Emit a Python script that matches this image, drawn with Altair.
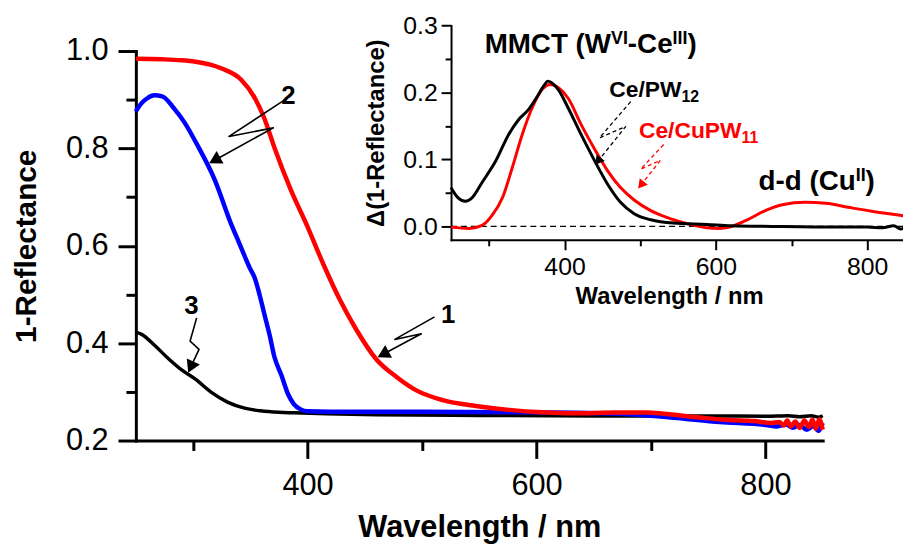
import altair as alt
import pandas as pd

FONT = "Liberation Sans"

# ---------------- main panel data: 1-Reflectance ----------------
red_wl = [250, 273, 290, 302, 315, 325, 342, 354, 362, 371, 385, 400, 414, 428, 443, 460, 478, 495, 518,
          547, 576, 605, 634, 668, 697, 711, 740, 769, 790, 805, 812, 816, 819, 822, 826, 830, 834, 838, 841,
          844, 847, 850]
red_val = [0.984, 0.983, 0.981, 0.978, 0.972, 0.964, 0.941, 0.903, 0.863, 0.802, 0.717, 0.639, 0.561, 0.490,
           0.426, 0.367, 0.330, 0.303, 0.283, 0.271, 0.263, 0.258, 0.256, 0.2575, 0.2575, 0.255, 0.248,
           0.242, 0.240, 0.236, 0.238, 0.231, 0.241, 0.229, 0.239, 0.226, 0.241, 0.228, 0.243, 0.224, 0.244, 0.222]

blue_wl = [250, 255, 260, 266, 273, 284, 292, 303, 319, 333, 340, 345, 350, 354, 358, 362, 367, 371, 377, 383,
           388, 394, 400, 420, 500, 600, 680, 720, 760, 800, 810, 818, 824, 830, 836, 842, 846, 850]
blue_val = [0.876, 0.893, 0.903, 0.909, 0.907, 0.880, 0.855, 0.810, 0.735, 0.646, 0.607, 0.579, 0.552, 0.533,
            0.500, 0.462, 0.415, 0.372, 0.335, 0.295, 0.275, 0.264, 0.260, 0.259, 0.259, 0.258, 0.254, 0.247,
            0.238, 0.232, 0.229, 0.233, 0.226, 0.232, 0.222, 0.230, 0.220, 0.236]

black_wl = [250, 255, 267, 279, 290, 302, 316, 330, 345, 359, 375, 388, 417, 460, 550, 650, 750, 800, 820,
            830, 840, 846, 850]
black_val = [0.4226, 0.418, 0.394, 0.367, 0.345, 0.326, 0.299, 0.279, 0.2665, 0.261, 0.258, 0.257, 0.255,
             0.253, 0.2515, 0.2505, 0.2505, 0.250, 0.251, 0.249, 0.251, 0.248, 0.251]

# ---------------- inset data: delta(1-Reflectance) ----------------
ins_black_wl = [250, 252, 259, 269, 278, 291, 309, 326, 339, 352, 365, 372, 378, 385, 392, 405, 422, 440, 457,
                474, 492, 514, 544, 588, 620, 675, 762, 800, 820, 835, 845, 850]
ins_black_val = [0.058, 0.054, 0.043, 0.0375, 0.043, 0.0656, 0.0976, 0.137, 0.159, 0.174, 0.196, 0.209, 0.217,
                 0.213, 0.204, 0.1765, 0.137, 0.0976, 0.063, 0.036, 0.019, 0.010, 0.005, 0.003, 0.001, 0.0,
                 -0.001, -0.001, -0.002, 0.001, -0.004, 0.002]

ins_red_wl = [250, 274, 291, 304, 318, 331, 344, 357, 370, 381, 392, 405, 422, 440, 457, 474, 492, 514, 535,
              550, 566, 588, 605, 618, 640, 666, 688, 718, 745, 775, 806, 845, 850]
ins_red_val = [-0.001, -0.003, 0.0015, 0.016, 0.043, 0.088, 0.137, 0.1765, 0.204, 0.212, 0.207, 0.191, 0.152,
               0.115, 0.083, 0.058, 0.0395, 0.0237, 0.0135, 0.008, 0.003, -0.002, -0.003, -0.001, 0.009, 0.024,
               0.0325, 0.036, 0.0345, 0.0286, 0.0227, 0.0163, 0.0155]

# ---------------- annotations ----------------
num_text = ["1", "2", "3"]
num_wl = [522.7, 383.3, 298.5]
num_val = [0.4424, 0.8904, 0.4607]

# squiggly arrows of the main panel (wavelength, value), last point = arrow head
arrow2_wl = [381.0, 331.4, 370.1, 320.4]
arrow2_val = [0.9012, 0.8246, 0.8422, 0.7778]
arrow1_wl = [510.9, 476.2, 499.4, 467.6]
arrow1_val = [0.454, 0.4077, 0.4193, 0.3792]
arrow3_wl = [303.1, 297.4, 305.2, 298.7]
arrow3_val = [0.4519, 0.4043, 0.3874, 0.3548]
head_main_angle = [241.8, 241.2, 204.6]

# dashed arrows in the inset
iarrow_black_wl = [487.5, 446.1, 481.0, 445.4]
iarrow_black_val = [0.1864, 0.1321, 0.1494, 0.0991]
iarrow_red_wl = [531.0, 500.6, 526.7, 502.3]
iarrow_red_val = [0.1223, 0.0854, 0.0987, 0.0636]
head_inset_angle = [218.6, 218.3]

# rich-text labels in the inset
MMCT = [("MMCT (W", "n"), ("VI", "sup"), ("-Ce", "n"), ("III", "sup"), (")", "n")]
CEPW = [("Ce/PW", "n"), ("12", "sub")]
CECUPW = [("Ce/CuPW", "n"), ("11", "sub")]
DD = [("d-d (Cu", "n"), ("II", "sup"), (")", "n")]

# ---------------- layout ----------------
W, H = 693, 393
INSET_XR = [318, 776]
INSET_YR = [190.5, -25.7]

ARIAL_BOLD = {' ': 278, '(': 333, ')': 333, '-': 333, '/': 278, '1': 556, '2': 556, 'C': 722, 'M': 833,
              'T': 611, 'W': 944, 'V': 667, 'I': 278, 'P': 667, 'e': 556, 'u': 611, 'd': 611}


def tw(s, size):
    return sum(ARIAL_BOLD.get(c, 556) for c in s) * size / 1000.0


tx_main = "datum.value % 200 === 0"
ty_main = "round(datum.value * 10) % 2 === 0"
ty_ins = "round(datum.value * 100) % 10 === 0"

main_x_axis = alt.Axis(
    orient="bottom", values=[300, 400, 500, 600, 700, 800], format="d",
    labelExpr=f"{tx_main} ? datum.label : ''", labelOverlap=False, labelFontSize=31, labelPadding=12,
    tickSize={"condition": {"test": tx_main, "value": 18}, "value": 10}, tickWidth=3, domainWidth=3,
    title="Wavelength / nm", titleFontSize=31, titleFontWeight="bold", titleX=W / 2, titleY=88,
    titleBaseline="middle", titleAlign="center", titleAngle=0)

main_y_axis = alt.Axis(
    orient="left", values=[0.2, 0.3, 0.4, 0.5, 0.6, 0.7, 0.8, 0.9, 1.0], format=".1f",
    labelExpr=f"{ty_main} ? datum.label : ''", labelOverlap=False, labelFontSize=31, labelPadding=10,
    tickSize={"condition": {"test": ty_main, "value": 18}, "value": 10}, tickWidth=3, domainWidth=3,
    title="1-Reflectance", titleFontSize=30, titleFontWeight="bold", titleX=-110, titleY=H / 2,
    titleBaseline="middle", titleAlign="center", titleAngle=270)

ins_x_axis = alt.Axis(
    orient="bottom", offset=-202.5, values=[300, 400, 500, 600, 700, 800], format="d",
    labelExpr=f"{tx_main} ? datum.label : ''", labelOverlap=False, labelFontSize=25, labelPadding=5,
    tickSize={"condition": {"test": tx_main, "value": 10}, "value": 6}, tickWidth=2, domainWidth=2,
    title="Wavelength / nm", titleFontSize=24, titleFontWeight="bold", titleX=538, titleY=57.5,
    titleBaseline="middle", titleAlign="center", titleAngle=0)

ins_y_axis = alt.Axis(
    orient="left", offset=-318, values=[0.0, 0.05, 0.1, 0.15, 0.2, 0.25, 0.3], format=".1f",
    labelExpr=f"{ty_ins} ? datum.label : ''", labelOverlap=False, labelFontSize=25, labelPadding=4,
    tickSize={"condition": {"test": ty_ins, "value": 10}, "value": 6}, tickWidth=2, domainWidth=2,
    title="Δ(1-Reflectance)", titleFontSize=24, titleFontWeight="bold", titleX=-75,
    titleY=(INSET_YR[0] + INSET_YR[1]) / 2, titleBaseline="middle", titleAlign="center", titleAngle=270)

main_xs = alt.Scale(domain=[250, 850], nice=False, zero=False)
main_ys = alt.Scale(domain=[0.2, 1.0], nice=False, zero=False)
ins_xs = alt.Scale(domain=[250, 850], range=INSET_XR, nice=False, zero=False)
ins_ys = alt.Scale(domain=[-0.02, 0.3], range=INSET_YR, nice=False, zero=False)


def mx():
    return alt.X("wl:Q", scale=main_xs, axis=main_x_axis)


def my():
    return alt.Y("val:Q", scale=main_ys, axis=main_y_axis)


def ix():
    return alt.X("wl:Q", scale=ins_xs, axis=ins_x_axis)


def iy():
    return alt.Y("val:Q", scale=ins_ys, axis=ins_y_axis)


def curve(wl, val, color, width, inset=False):
    df = pd.DataFrame({"wl": wl, "val": val})
    return alt.Chart(df).mark_line(color=color, strokeWidth=width, strokeJoin="round",
                                   interpolate="monotone").encode(
        x=ix() if inset else mx(), y=iy() if inset else my())


def arrows_df(lists):
    rows = []
    for name, (wl, val) in lists.items():
        for i, (a, b) in enumerate(zip(wl, val)):
            rows.append({"arrow": name, "i": i, "wl": a, "val": b})
    return pd.DataFrame(rows)


# ---------------- main panel layers ----------------
main_arrows = arrows_df({"a1": (arrow1_wl, arrow1_val), "a2": (arrow2_wl, arrow2_val),
                         "a3": (arrow3_wl, arrow3_val)})
main_heads = pd.DataFrame({"wl": [arrow1_wl[-1], arrow2_wl[-1], arrow3_wl[-1]],
                           "val": [arrow1_val[-1], arrow2_val[-1], arrow3_val[-1]],
                           "ang": head_main_angle})
nums = pd.DataFrame({"wl": num_wl, "val": num_val, "t": num_text})

main_layers = [
    curve(black_wl, black_val, "#000000", 3.5),
    curve(blue_wl, blue_val, "#0000FF", 4.5),
    curve(red_wl, red_val, "#FF0000", 4.5),
    alt.Chart(main_arrows).mark_line(color="black", strokeWidth=1.6, strokeJoin="round").encode(
        x=mx(), y=my(), detail="arrow:N", order="i:Q"),
    alt.Chart(main_heads).mark_point(shape="triangle", filled=True, size=210, color="black", opacity=1).encode(
        x=mx(), y=my(), angle=alt.Angle("ang:Q", scale=None)),
    alt.Chart(nums).mark_text(font=FONT, fontSize=26, fontWeight="bold", color="black", align="center",
                              baseline="alphabetic").encode(x=mx(), y=my(), text="t:N"),
]
main_layer = alt.layer(*main_layers)

# ---------------- inset layers ----------------
ins_arrows_b = arrows_df({"b": (iarrow_black_wl, iarrow_black_val)})
ins_arrows_r = arrows_df({"r": (iarrow_red_wl, iarrow_red_val)})
ins_heads = pd.DataFrame({"wl": [iarrow_black_wl[-1], iarrow_red_wl[-1]],
                          "val": [iarrow_black_val[-1], iarrow_red_val[-1]],
                          "ang": head_inset_angle, "c": ["#000000", "#FF0000"]})
zero_df = pd.DataFrame({"wl": [250, 850], "val": [0.0, 0.0]})


def rich(pieces, wl, val, color, size, small):
    layers = []
    dx = 0.0
    df = pd.DataFrame({"wl": [wl], "val": [val]})
    for text, kind in pieces:
        fs = size if kind == "n" else small
        dy = 0 if kind == "n" else (-9 if kind == "sup" else 5)
        layers.append(alt.Chart(df).mark_text(
            text=text, font=FONT, fontSize=fs, fontWeight="bold", color=color, align="left",
            baseline="alphabetic", dx=dx, dy=dy).encode(x=ix(), y=iy()))
        dx += tw(text, fs)
    return layers


inset_layers = [
    alt.Chart(zero_df).mark_line(color="black", strokeWidth=1.2, strokeDash=[6, 4]).encode(x=ix(), y=iy()),
    curve(ins_red_wl, ins_red_val, "#FF0000", 3, inset=True),
    curve(ins_black_wl, ins_black_val, "#000000", 3, inset=True),
    alt.Chart(ins_arrows_b).mark_line(color="black", strokeWidth=1.3, strokeDash=[4, 3]).encode(
        x=ix(), y=iy(), detail="arrow:N", order="i:Q"),
    alt.Chart(ins_arrows_r).mark_line(color="#FF0000", strokeWidth=1.3, strokeDash=[4, 3]).encode(
        x=ix(), y=iy(), detail="arrow:N", order="i:Q"),
    alt.Chart(ins_heads).mark_point(shape="triangle", filled=True, size=110, opacity=1).encode(
        x=ix(), y=iy(), angle=alt.Angle("ang:Q", scale=None), color=alt.Color("c:N", scale=None)),
]
inset_layers += rich(MMCT, 294.4, 0.2589, "black", 28, 18)
inset_layers += rich(CEPW, 459.2, 0.1938, "black", 23, 16)
inset_layers += rich(CECUPW, 498.4, 0.1317, "#FF0000", 23, 16)
inset_layers += rich(DD, 656.5, 0.0547, "black", 28, 18)
inset_layer = alt.layer(*inset_layers)

chart = alt.layer(main_layer, inset_layer).resolve_scale(
    x="independent", y="independent"
).properties(
    width=W, height=H,
    autosize=alt.AutoSizeParams(type="none"),
    padding={"left": 129, "top": 41, "right": 81, "bottom": 104},
    background="white",
).configure_view(stroke=None).configure_axis(
    grid=False, labelFont=FONT, titleFont=FONT, labelColor="black", titleColor="black",
    domainColor="black", tickColor="black", domainCap="square")

chart.save("out.html", embed_options={"renderer": "svg", "actions": False})
